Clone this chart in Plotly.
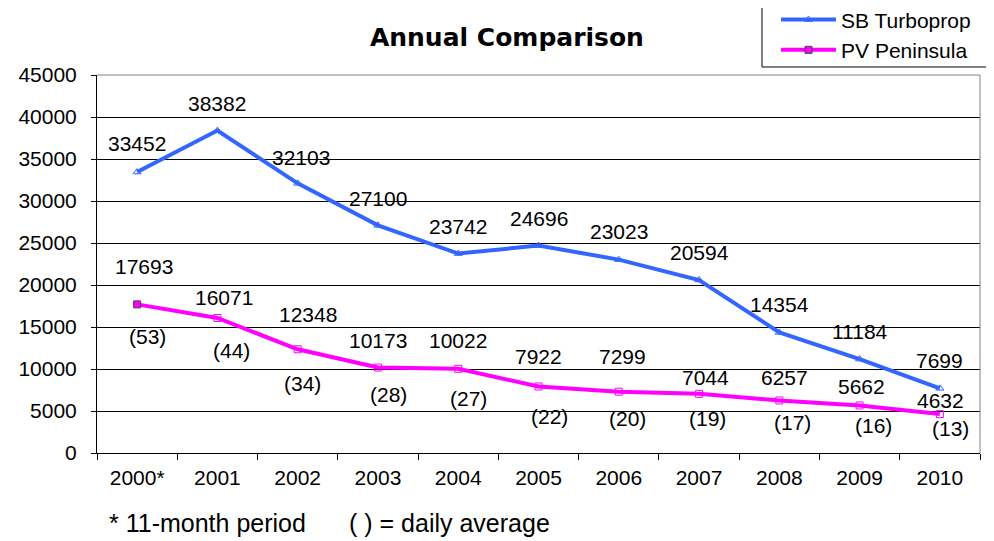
import plotly.graph_objects as go

years = ["2000*", "2001", "2002", "2003", "2004", "2005", "2006", "2007", "2008", "2009", "2010"]
sb_turboprop = [33452, 38382, 32103, 27100, 23742, 24696, 23023, 20594, 14354, 11184, 7699]
pv_peninsula = [17693, 16071, 12348, 10173, 10022, 7922, 7299, 7044, 6257, 5662, 4632]
pv_daily_avg = [53, 44, 34, 28, 27, 22, 20, 19, 17, 16, 13]

# label placement offsets (pixels)
sb_dx = [0, 0, 3, 0, 0, 0, 0, 0, 0, 0, 0]
sb_dy = [29, 27, 26, 27, 27, 27, 28, 28, 28, 28, 28]
pv_dx = [7, 7, 10, 0, 0, 0, 4, 6, 5, 2, 1]
pv_dy = [38, 21, 35, 27, 28, 30, 35, 16, 23, 19, 14]
avg_dx = [10, 14, 5, 11, 10, 11, 9, 8, 13, 14, 11]
avg_dy = [-32, -32, -34, -27, -30, -30, -27, -25, -22, -20, -14]

BLUE = "#3366FF"
MAGENTA = "#FF00FF"
FONT = "Liberation Sans, Arial, sans-serif"

fig = go.Figure()
fig.add_trace(go.Scatter(
    x=years, y=sb_turboprop, name="SB Turboprop", mode="lines+markers",
    line=dict(color=BLUE, width=4),
    marker=dict(symbol="triangle-up-open", size=7, color=BLUE, line=dict(width=1)),
))
fig.add_trace(go.Scatter(
    x=years, y=pv_peninsula, name="PV Peninsula", mode="lines+markers",
    line=dict(color=MAGENTA, width=4),
    marker=dict(symbol=["square"] + ["square-open"] * (len(years) - 1), size=7,
                color=MAGENTA, line=dict(width=1)),
))

lab_font = dict(family=FONT, size=21, color="black")
note_font = dict(family=FONT, size=25, color="black")
ann = []
for i in range(len(years)):
    # category axis: annotation x given as category index
    ann.append(dict(x=i, y=sb_turboprop[i], text=str(sb_turboprop[i]), showarrow=False,
                    xshift=sb_dx[i], yshift=sb_dy[i], font=lab_font))
    ann.append(dict(x=i, y=pv_peninsula[i], text=str(pv_peninsula[i]), showarrow=False,
                    xshift=pv_dx[i], yshift=pv_dy[i], font=lab_font))
    ann.append(dict(x=i, y=pv_peninsula[i], text="(%d)" % pv_daily_avg[i], showarrow=False,
                    xshift=avg_dx[i], yshift=avg_dy[i], font=lab_font))

ann.append(dict(xref="paper", yref="paper", x=0.0113, y=-0.185, xanchor="left", yanchor="middle",
                text="* 11-month period", showarrow=False, font=note_font))
ann.append(dict(xref="paper", yref="paper", x=0.283, y=-0.185, xanchor="left", yanchor="middle",
                text="( ) = daily average", showarrow=False, font=note_font))

shapes = [
    dict(type="line", xref="paper", yref="paper", x0=0, x1=1, y0=1, y1=1, line=dict(color="#808080", width=1)),
    dict(type="line", xref="paper", yref="paper", x0=1, x1=1, y0=0, y1=1, line=dict(color="#808080", width=1)),
    dict(type="rect", xref="paper", yref="paper", x0=0.7531, x1=1.0113, y0=1.0212, y1=1.1852,
         line=dict(color="black", width=1), fillcolor="white", layer="below"),
]

# the page adds an 8px body margin, so the figure is 8px smaller than the window
fig.update_layout(
    width=986, height=533,
    margin=dict(l=89, r=14, t=67, b=88, autoexpand=False),
    paper_bgcolor="white", plot_bgcolor="white",
    font=dict(family=FONT, size=21, color="black"),
    title=dict(text="<b>Annual Comparison</b>", x=0.506, xref="container", xanchor="center",
               y=0.9456, yref="container", yanchor="middle",
               font=dict(family="DejaVu Sans, sans-serif", size=25, color="black")),
    showlegend=True,
    legend=dict(xref="paper", yref="paper", x=0.769, y=1.2, xanchor="left", yanchor="top",
                bgcolor="rgba(0,0,0,0)", borderwidth=0, font=lab_font,
                tracegroupgap=0, itemwidth=55),
    annotations=ann,
    shapes=shapes,
)
fig.update_xaxes(type="category", range=[-0.5, len(years) - 0.5], tickson="boundaries",
                 ticks="outside", ticklen=6, tickcolor="black", tickangle=0,
                 showline=True, linecolor="black", linewidth=1, showgrid=False,
                 ticklabelstandoff=6, tickfont=lab_font)
fig.update_yaxes(range=[0, 45000], dtick=5000, ticks="outside", ticklen=5, tickcolor="black",
                 showline=True, linecolor="black", linewidth=1, showgrid=True, gridcolor="black", gridwidth=1,
                 zeroline=False, ticklabelstandoff=10, tickformat="d", tickfont=lab_font)

fig.write_html("out.html")
